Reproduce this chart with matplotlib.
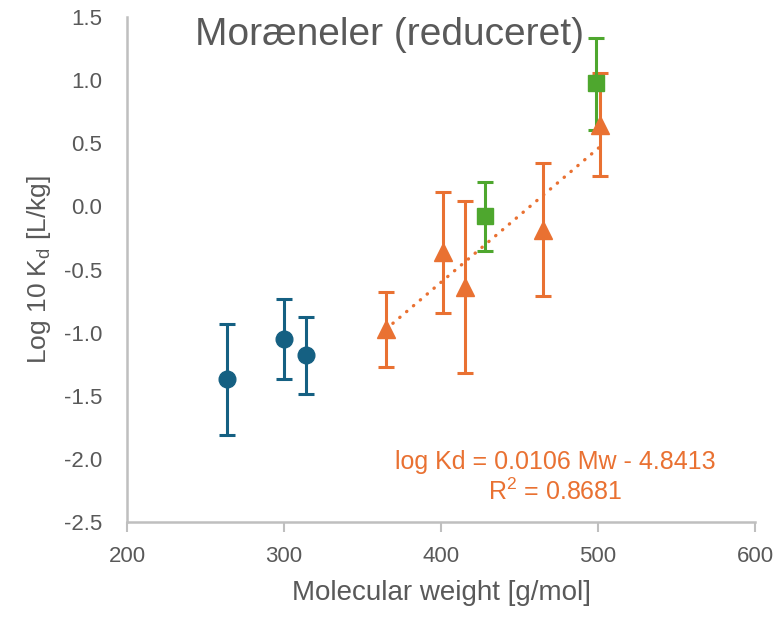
import matplotlib
matplotlib.use("Agg")
import matplotlib.pyplot as plt
import numpy as np

# Series data: molecular weight [g/mol], log10 Kd [L/kg], lower/upper error
blue_mw = [264, 300, 314]
blue_logkd = [-1.37, -1.05, -1.18]
blue_err_low = [0.44, 0.32, 0.305]
blue_err_high = [0.44, 0.32, 0.305]

orange_mw = [365, 401, 415, 465, 501]
orange_logkd = [-0.975, -0.365, -0.64, -0.185, 0.647]
orange_err_low = [0.30, 0.48, 0.68, 0.525, 0.41]
orange_err_high = [0.30, 0.48, 0.68, 0.525, 0.41]

green_mw = [428, 499]
green_logkd = [-0.08, 0.977]
green_err_low = [0.27, 0.37]
green_err_high = [0.27, 0.354]

# Linear trend for the orange series
trend_slope = 0.0106
trend_intercept = -4.8413
r_squared = 0.8681

x_ticks = [200, 300, 400, 500, 600]
y_ticks = [-2.5, -2.0, -1.5, -1.0, -0.5, 0.0, 0.5, 1.0, 1.5]

BLUE = "#156082"
ORANGE = "#E97132"
GREEN = "#4EA72E"
TEXT = "#595959"
AXIS = "#BFBFBF"

plt.rcParams["font.family"] = ["Liberation Sans", "DejaVu Sans"]

fig = plt.figure(figsize=(7.84, 6.22), dpi=100)
ax = fig.add_axes([127 / 784, 1 - 522 / 622, (755 - 127) / 784, (522 - 17) / 622])

series = [
    (blue_mw, blue_logkd, [blue_err_low, blue_err_high], BLUE, "o", 12),
    (orange_mw, orange_logkd, [orange_err_low, orange_err_high], ORANGE, "^", 13),
    (green_mw, green_logkd, [green_err_low, green_err_high], GREEN, "s", 11.5),
]

# Error bars of every series sit below all markers
for mw, val, err, col, mk, ms in series:
    ax.errorbar(mw, val, yerr=err, fmt="none", ecolor=col, elinewidth=2.2,
                capsize=5.6, capthick=2.2, zorder=2)
for mw, val, err, col, mk, ms in series:
    ax.plot(mw, val, linestyle="none", marker=mk, markersize=ms, color=col,
            zorder=4)

tx = np.array([min(orange_mw), max(orange_mw)])
ax.plot(tx, trend_slope * tx + trend_intercept, color=ORANGE, linewidth=2.4,
        linestyle=(0, (0.1, 2.6)), dash_capstyle="round", zorder=3)

ax.set_xlim(200, 600)
ax.set_ylim(-2.5, 1.5)
ax.set_xticks(x_ticks)
ax.set_yticks(y_ticks)
ax.set_xticklabels([str(v) for v in x_ticks])
ax.set_yticklabels([f"{v:.1f}" for v in y_ticks])

for s in ("top", "right"):
    ax.spines[s].set_visible(False)
for s in ("left", "bottom"):
    ax.spines[s].set_color(AXIS)
    ax.spines[s].set_linewidth(1.8)

ax.tick_params(axis="x", direction="out", length=7, width=1.5, color=AXIS,
               labelsize=16, labelcolor=TEXT, pad=10)
ax.tick_params(axis="y", length=0, labelsize=16, labelcolor=TEXT, pad=18)

ax.set_xlabel("Molecular weight [g/mol]", fontsize=20, color=TEXT, labelpad=10)
ax.set_ylabel(r"Log 10 K$_\mathregular{d}$ [L/kg]", fontsize=19, color=TEXT,
              labelpad=8)

ax.text(367, 1.357, "Moræneler (reduceret)", fontsize=28, color=TEXT,
        ha="center", va="center")

ax.text(472.6, -2.025, f"log Kd = {trend_slope} Mw - {abs(trend_intercept)}",
        fontsize=18, color=ORANGE, ha="center", va="center")
ax.text(472.6, -2.262, f"R$^\\mathregular{{2}}$ = {r_squared}", fontsize=18,
        color=ORANGE, ha="center", va="center")

fig.savefig("out.png", dpi=100)
